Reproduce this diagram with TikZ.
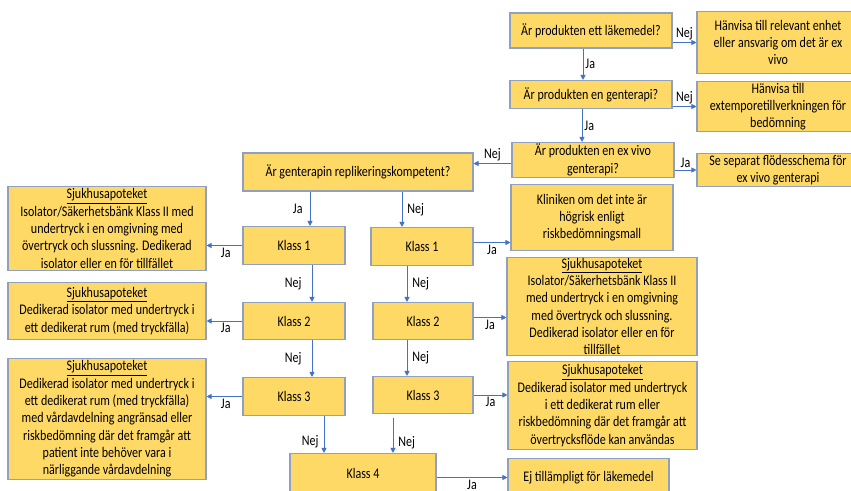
\documentclass[tikz,border=0pt]{standalone}
\usepackage{fontspec}
\setmainfont{Carlito}[FakeStretch=0.82]
\usepackage{tikz}
\usetikzlibrary{arrows.meta,positioning}
\definecolor{boxfill}{HTML}{FFD966}
\definecolor{boxline}{HTML}{8FA1BF}
\definecolor{flowblue}{HTML}{4472C4}

\begin{document}
\begin{tikzpicture}[x=1pt,y=-1pt,
    box/.style={draw=boxline,line width=1.1pt,fill=boxfill,align=center,inner sep=1pt,
      font=\fontsize{14.67}{17.3}\selectfont},
    sz/.style 2 args={minimum width=#1pt,minimum height=#2pt},
    flow/.style={draw=flowblue,line width=0.9pt,-{Triangle[length=5pt,width=5pt]}},
    lbl/.style={font=\fontsize{14.67}{17.3}\selectfont,inner sep=2pt}]
        \path[use as bounding box,fill=white] (0,0) rectangle (851,490);
        % frågor
        \node[box,sz={162}{35}] (q1) at (591,30.5) {Är produkten ett läkemedel?};
        \node[box,sz={162}{28}] (q2) at (591,94.5) {Är produkten en genterapi?};
        \node[box,sz={162}{35}] (q3) at (593,160) {Är produkten en ex vivo\\genterapi?};
        \node[box,sz={230}{38}] (q4) at (358,172) {Är genterapin replikeringskompetent?};
        \node[box,sz={162}{62}] (r1) at (778,42.5) {Hänvisa till relevant enhet\\eller ansvarig om det är ex\\vivo};
        \node[box,sz={162}{50}] (r2) at (778,106.5) {Hänvisa till\\extemporetillverkningen för\\bedömning};
        \node[box,sz={162}{33}] (r3) at (778,170) {Se separat flödesschema för\\ex vivo genterapi};
        % klasser
        \node[box,sz={102}{38}] (k1a) at (294,245.5) {Klass 1};
        \node[box,sz={102}{37}] (k2a) at (294,321) {Klass 2};
        \node[box,sz={102}{38}] (k3a) at (294,396.5) {Klass 3};
        \node[box,sz={102}{38}] (k1b) at (422,246.5) {Klass 1};
        \node[box,sz={100}{37}] (k2b) at (423,321) {Klass 2};
        \node[box,sz={100}{37}] (k3b) at (423,395) {Klass 3};
        \node[box,sz={146}{40}] (k4) at (363,473.5) {Klass 4};
        % utfall
        \node[box,sz={198}{84}] (apo1) at (107,228.5) {\underline{Sjukhusapoteket}\\Isolator/Säkerhetsbänk Klass II med\\undertryck i en omgivning med\\övertryck och slussning. Dedikerad\\isolator eller en för tillfället};
        \node[box,sz={198}{57}] (apo2) at (107,311) {\underline{Sjukhusapoteket}\\Dedikerad isolator med undertryck i\\ett dedikerat rum (med tryckfälla)};
        \node[box,sz={198}{121}] (apo3) at (107,419) {\underline{Sjukhusapoteket}\\Dedikerad isolator med undertryck i\\ett dedikerat rum (med tryckfälla)\\med vårdavdelning angränsad eller\\riskbedömning där det framgår att\\patient inte behöver vara i\\närliggande vårdavdelning};
        \node[box,sz={162}{66}] (klin) at (592,217.5) {Kliniken om det inte är\\högrisk enligt\\riskbedömningsmall};
        \node[box,sz={190}{98}] (apo4) at (602,306.5) {\underline{Sjukhusapoteket}\\Isolator/Säkerhetsbänk Klass II\\med undertryck i en omgivning\\med övertryck och slussning.\\Dedikerad isolator eller en för\\tillfället};
        \node[box,sz={189}{88}] (apo5) at (602.5,405.5) {\underline{Sjukhusapoteket}\\Dedikerad isolator med undertryck\\i ett dedikerat rum eller\\riskbedömning där det framgår att\\övertrycksflöde kan användas};
        \node[box,sz={161}{38}] (ej) at (588.5,477.5) {Ej tillämpligt för läkemedel};
        % pilar överst
        \draw[flow] (q1.east |- r1.west) -- node[lbl,above] {Nej} (r1.west);
        \draw[flow] (q2.east |- r2.west) -- node[lbl,above] {Nej} (r2.west);
        \draw[flow] (q3.east |- r3.west) -- node[lbl,above] {Ja} (r3.west);
        \draw[flow] ([xshift=-8pt]q1.south) -- node[lbl,right] {Ja} ([xshift=-8pt]q1.south |- q2.north);
        \draw[flow] ([xshift=-9pt]q2.south) -- node[lbl,right] {Ja} ([xshift=-9pt]q2.south |- q3.north);
        \draw[flow] ([yshift=-3.5pt]q3.west) -- node[lbl,above] {Nej} ([yshift=-3.5pt]q3.west -| q4.east);
        \draw[flow] ([xshift=-48pt]q4.south) -- node[lbl,left=5pt] {Ja} ([xshift=-48pt]q4.south |- k1a.north);
        \draw[flow] ([xshift=44pt]q4.south) -- node[lbl,right=3pt] {Nej} ([xshift=44pt]q4.south |- k1b.north);
        % vänster kolumn
        \draw[flow] (k1a.west) -- node[lbl,below right=0pt and -6pt] {Ja} (k1a.west -| apo1.east);
        \draw[flow] (k2a.west) -- node[lbl,below right=0pt and -6pt] {Ja} (k2a.west -| apo2.east);
        \draw[flow] (k3a.west) -- node[lbl,below right=0pt and -6pt] {Ja} (k3a.west -| apo3.east);
        \draw[flow] ([xshift=18pt]k1a.south) -- node[lbl,left=8pt] {Nej} ([xshift=18pt]k1a.south |- k2a.north);
        \draw[flow] ([xshift=18pt]k2a.south) -- node[lbl,left=8pt] {Nej} ([xshift=18pt]k2a.south |- k3a.north);
        \draw[flow] ([xshift=30pt]k3a.south) -- node[lbl,left=3pt,pos=0.7] {Nej} ([xshift=30pt]k3a.south |- k4.north);
        % höger kolumn
        \draw[flow] ([yshift=4pt]k1b.east) -- node[lbl,below] {Ja} ([yshift=4pt]k1b.east -| klin.west);
        \draw[flow] ([yshift=3.5pt]k2b.east) -- node[lbl,below] {Ja} ([yshift=3.5pt]k2b.east -| apo4.west);
        \draw[flow] (k3b.east) -- node[lbl,below] {Ja} (k3b.east -| apo5.west);
        \draw[flow] ([xshift=-15pt]k1b.south) -- node[lbl,right=3pt] {Nej} ([xshift=-15pt]k1b.south |- k2b.north);
        \draw[flow] ([xshift=-16pt]k2b.south) -- node[lbl,right=3pt] {Nej} ([xshift=-16pt]k2b.south |- k3b.north);
        \draw[flow] ([xshift=-30pt,yshift=-4pt]k3b.south) -- node[lbl,right=3pt,pos=0.7] {Nej} ([xshift=-30pt]k3b.south |- k4.north);
        \draw[flow] (k4.east |- ej.west) -- node[lbl,below] {Ja} (ej.west);
      \end{tikzpicture}
\end{document}
